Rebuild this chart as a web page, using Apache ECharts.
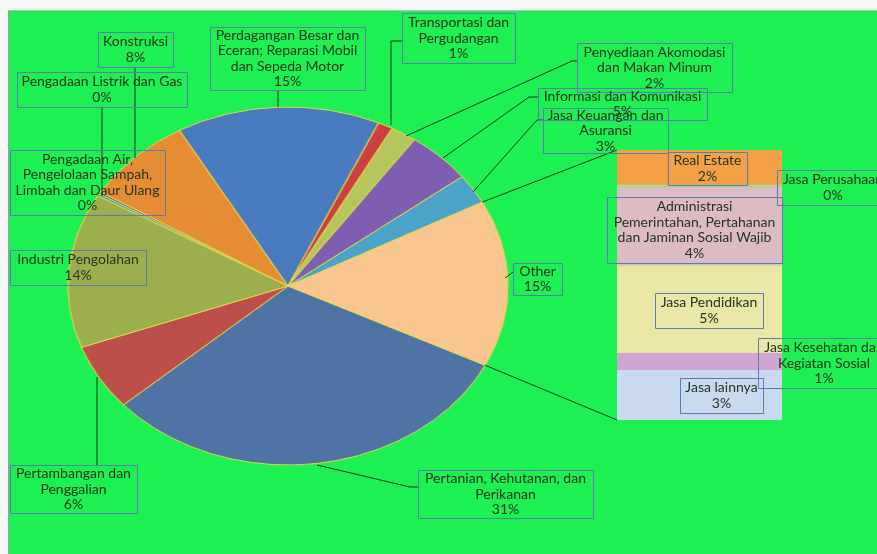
<!DOCTYPE html>
<html>
<head>
<meta charset="utf-8">
<script src="https://cdn.jsdelivr.net/npm/echarts@6.0.0/dist/echarts.min.js"></script>
<style>
  html, body { margin:0; padding:0; width:877px; height:554px; overflow:hidden; background:#f4f7f4; }
  #frame { position:absolute; left:8px; top:10px; width:869px; height:544px; background:#1cf052;
           border-left:1px solid #9c96b6; border-top:1px solid #b8c4b8; box-sizing:border-box; }
  #pie { position:absolute; left:88px; top:86px; width:400px; height:400px;
         transform-origin:200px 200px; transform:scaleX(1.229); }
  #main { position:absolute; left:0; top:0; width:877px; height:554px; }
</style>
</head>
<body>
<div id="frame"></div>
<div id="pie"></div>
<div id="main"></div>
<script>
// ---------- data ----------
const pieNames = [
  'Pertanian, Kehutanan, dan\nPerikanan',
  'Pertambangan dan\nPenggalian',
  'Industri Pengolahan',
  'Pengadaan Listrik dan Gas',
  'Pengadaan Air,\nPengelolaan Sampah,\nLimbah dan Daur Ulang',
  'Konstruksi',
  'Perdagangan Besar dan\nEceran; Reparasi Mobil\ndan Sepeda Motor',
  'Transportasi dan\nPergudangan',
  'Penyediaan Akomodasi\ndan Makan Minum',
  'Informasi dan Komunikasi',
  'Jasa Keuangan dan\nAsuransi'
];
const pieValues = [31.2, 6.0, 14.0, 0.2, 0.2, 8.0, 15.0, 1.1, 1.9, 4.8, 2.7];
const otherName = 'Other';
const barNames = [
  'Real Estate',
  'Jasa Perusahaan',
  'Administrasi\nPemerintahan, Pertahanan\ndan Jaminan Sosial Wajib',
  'Jasa Pendidikan',
  'Jasa Kesehatan dan\nKegiatan Sosial',
  'Jasa lainnya'
];
const barValues = [1.95, 0.1, 4.4, 4.9, 0.95, 2.8];

// ---------- styles / layout ----------
const pieColors = ['#5073a6','#bd4f4a','#9dae4c','#3fa0b8','#7e62a8','#e68c34','#4b7bbf',
                   '#cc4040','#b5c65c','#7e5eb0','#4aa3c8','#f9c68f'];
const barColors = ['#f4a046','#c9cf88','#ddbbc4','#e9e6a6','#cda6d3','#c9d9ee'];
const PIE = { cx:288, cy:286, rx:220, ry:179, startAngle:333.7 };
const pieBoxes = [
  [418,470,175,48],[10,465,127,48],[10,250,136,35],[17,72,170,35],[10,150,155,65],
  [98,32,75,35],[210,27,155,63],[402,13,113,50],[577,43,155,49],[538,88,169,32],
  [543,108,125,45],[513,263,49,32]
];
const barBoxes = [[668,152,79,33],[777,170,112,35],[607,197,175,66],[655,293,108,35],[758,338,132,50],[680,378,83,35]];
const leaders = [
  [[317,465],[410,487],[418,487]],
  [[97,377],[97,465]],
  [[102,107],[102,196]],
  [[135,67],[135,158]],
  [[278,90],[278,107]],
  [[402,41],[391,41],[391,125]],
  [[406,136],[572,61],[577,61]],
  [[443,158],[529,97],[538,97]],
  [[473,192],[537,120],[543,120]],
  [[505,278],[513,272]]
];
const FONT = '14px Lato, "Noto Sans", sans-serif';
const TEXT = '#22361e';
const BOX = '#5a7cae';
const LINE = '#1d3a1d';

// ---------- derived ----------
const otherValue = barValues.reduce((a,b)=>a+b,0);
const total = pieValues.reduce((a,b)=>a+b,0) + otherValue;
const pct = v => Math.round(v / total * 100) + '%';

// ---------- pie (its own instance, stretched into an ellipse) ----------
const pieChart = echarts.init(document.getElementById('pie'));
const pieData = pieNames.map((n,i)=>({name:n, value:pieValues[i], itemStyle:{color:pieColors[i]}}))
  .concat([{name:otherName, value:otherValue, itemStyle:{color:pieColors[11]}}]);
pieChart.setOption({
  animation:false,
  series:[{
    type:'pie', center:['50%','50%'], radius:PIE.ry, startAngle:PIE.startAngle, clockwise:true,
    silent:true, data:pieData, label:{show:false}, labelLine:{show:false},
    itemStyle:{borderColor:'#e3d74c', borderWidth:1}
  }]
});

// ---------- bar + annotations ----------
const chart = echarts.init(document.getElementById('main'));
chart.setOption({
  animation:false,
  grid:{left:617, top:150, width:165, height:270},
  xAxis:{type:'category', data:[otherName], show:false},
  yAxis:{type:'value', min:0, max:otherValue, inverse:true, show:false},
  series: barNames.map((n,i)=>({
    type:'bar', name:n, stack:'other', data:[barValues[i]], barWidth:'100%', silent:true,
    itemStyle:{color:barColors[i]}
  }))
});

const g = [];
function addBox(b, txt){
  g.push({type:'rect', z:50, shape:{x:b[0]+0.5, y:b[1]+0.5, width:b[2], height:b[3]},
          style:{fill:'none', stroke:BOX, lineWidth:1}});
  g.push({type:'text', z:51, x:b[0]+b[2]/2, y:b[1]+b[3]/2,
          style:{text:txt, font:FONT, fill:TEXT, align:'center', verticalAlign:'middle', lineHeight:15.5}});
}
pieData.forEach((d,i)=>addBox(pieBoxes[i], d.name + '\n' + pct(d.value)));
barNames.forEach((n,i)=>addBox(barBoxes[i], n + '\n' + pct(barValues[i])));
leaders.forEach(p=>g.push({type:'polyline', z:49, shape:{points:p}, style:{stroke:LINE, lineWidth:1, fill:null}}));

// series lines between the Other slice and the bar
const toPt = a => { const r = a*Math.PI/180; return [PIE.cx + PIE.rx*Math.cos(r), PIE.cy - PIE.ry*Math.sin(r)]; };
const otherStart = PIE.startAngle + otherValue/total*360;
const otherEnd = PIE.startAngle;
const yTop = chart.convertToPixel({yAxisIndex:0}, 0);
const yBot = chart.convertToPixel({yAxisIndex:0}, otherValue);
const xLeft = 617;
g.push({type:'polyline', z:49, shape:{points:[toPt(otherStart), [xLeft, yTop]]}, style:{stroke:LINE, lineWidth:1, fill:null}});
g.push({type:'polyline', z:49, shape:{points:[toPt(otherEnd), [xLeft, yBot]]}, style:{stroke:LINE, lineWidth:1, fill:null}});

chart.setOption({graphic:g});
</script>
</body>
</html>
